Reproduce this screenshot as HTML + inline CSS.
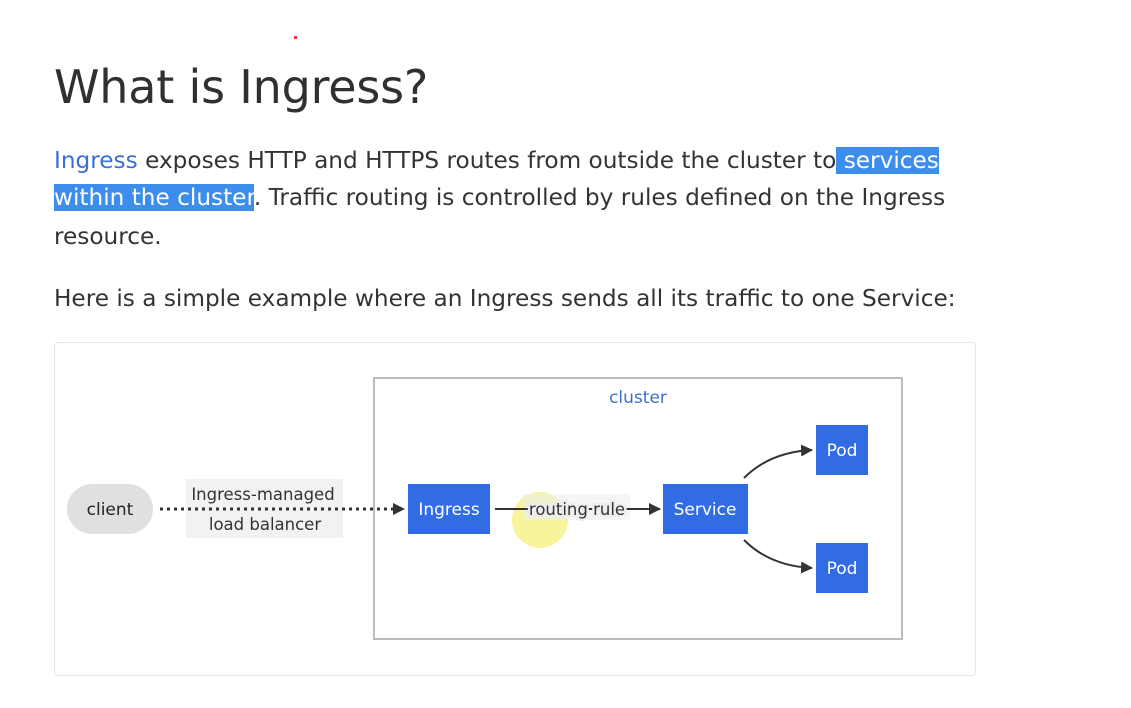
<!DOCTYPE html>
<html><head><meta charset="utf-8"><style>
body{margin:0;width:1131px;height:708px;background:#fff;position:relative;overflow:hidden;font-family:"DejaVu Sans","Liberation Sans",sans-serif;color:#222}
h1{position:absolute;left:54px;top:60px;margin:0;font-weight:400;font-size:46px;color:#303030;letter-spacing:-0.2px}
.p{position:absolute;left:54px;font-size:23.2px;color:#333;white-space:nowrap}
.hl{background:#3d8eec;color:#fff}
.lk{color:#3a6fd1}
.box{position:absolute;left:54px;top:342px;width:920px;height:332px;border:1px solid #e6e6e6;border-radius:4px}
</style></head><body>
<div style="position:absolute;left:294px;top:36px;width:3px;height:3px;background:#e33"></div>
<h1>What is Ingress?</h1>
<div class="p" style="top:147px"><span class="lk">Ingress</span> exposes HTTP and HTTPS routes from outside the cluster to<span class="hl"> services </span></div>
<div class="p" style="top:184px"><span class="hl">within the cluster</span>. Traffic routing is controlled by rules defined on the Ingress</div>
<div class="p" style="top:223px">resource.</div>
<div class="p" style="top:285px">Here is a simple example where an Ingress sends all its traffic to one Service:</div>
<div class="box"></div>
<svg style="position:absolute;left:0;top:0" width="1131" height="708" font-family="DejaVu Sans, Liberation Sans, sans-serif">
<defs><marker id="a" markerWidth="12" markerHeight="12" refX="11" refY="6" orient="auto" markerUnits="userSpaceOnUse"><path d="M0,0L12,6L0,12z" fill="#333"/></marker></defs>
<rect x="374" y="378" width="528" height="261" fill="none" stroke="#bbb" stroke-width="2"/>
<text x="638" y="403" fill="#3a6fd1" font-size="17" text-anchor="middle">cluster</text>
<rect x="67" y="484" width="86" height="50" rx="25" fill="#e0e0e0"/>
<text x="110" y="515" font-size="17" text-anchor="middle" fill="#222">client</text>
<rect x="186" y="479" width="157" height="59" fill="#f2f2f2"/>
<line x1="160" y1="509" x2="404" y2="509" stroke="#333" stroke-width="3" stroke-dasharray="3,4" marker-end="url(#a)"/>
<text x="263" y="500" font-size="16.5" text-anchor="middle" fill="#333">Ingress-managed</text>
<text x="265" y="530" font-size="16.5" text-anchor="middle" fill="#333">load balancer</text>
<rect x="408" y="484" width="82" height="50" fill="#326ce5"/>
<text x="449" y="515" font-size="17" text-anchor="middle" fill="#fff">Ingress</text>
<circle cx="540" cy="520" r="28" fill="#f5f07a" opacity="0.75"/>
<rect x="523" y="494" width="107" height="26" fill="#eee" opacity="0.6"/>
<line x1="495" y1="509" x2="660" y2="509" stroke="#333" stroke-width="2" marker-end="url(#a)"/>
<text x="577" y="515" font-size="16.5" text-anchor="middle" fill="#333" style="paint-order:stroke" stroke="#eee" stroke-width="5">routing rule</text>
<rect x="663" y="484" width="85" height="50" fill="#326ce5"/>
<text x="705" y="515" font-size="17" text-anchor="middle" fill="#fff">Service</text>
<path d="M744,478 Q770,452 812,450" fill="none" stroke="#333" stroke-width="2" marker-end="url(#a)"/>
<path d="M744,540 Q770,566 812,568" fill="none" stroke="#333" stroke-width="2" marker-end="url(#a)"/>
<rect x="816" y="425" width="52" height="50" fill="#326ce5"/>
<text x="842" y="456" font-size="17" text-anchor="middle" fill="#fff">Pod</text>
<rect x="816" y="543" width="52" height="50" fill="#326ce5"/>
<text x="842" y="574" font-size="17" text-anchor="middle" fill="#fff">Pod</text>
</svg>
</body></html>
